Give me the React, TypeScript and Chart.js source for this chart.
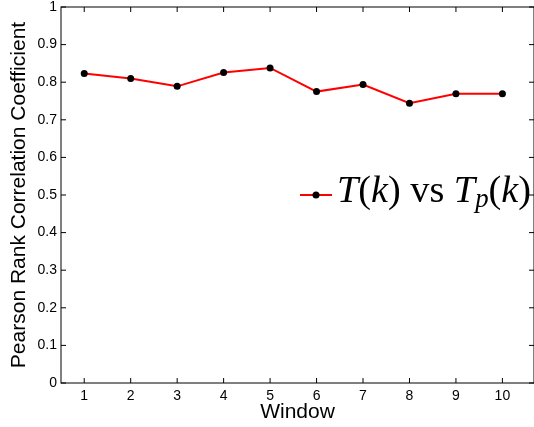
import React, { useEffect, useRef } from "react";
import { Chart, registerables } from "chart.js";

Chart.register(...registerables);

const windows = [1, 2, 3, 4, 5, 6, 7, 8, 9, 10];
const correlation = [0.823, 0.810, 0.789, 0.826, 0.838, 0.775, 0.794, 0.744, 0.769, 0.769];
const xTicks = [1, 2, 3, 4, 5, 6, 7, 8, 9, 10];
const xTickLabels = ["1", "2", "3", "4", "5", "6", "7", "8", "9", "10"];
const yTicks = [0, 0.1, 0.2, 0.3, 0.4, 0.5, 0.6, 0.7, 0.8, 0.9, 1];
const yTickLabels = ["0", "0.1", "0.2", "0.3", "0.4", "0.5", "0.6", "0.7", "0.8", "0.9", "1"];
const xTitle = "Window";
const yTitle = "Pearson Rank Correlation Coefficient";

const SANS = '"Liberation Sans", Arial, Helvetica, sans-serif';
const SERIF = '"Liberation Serif", "Times New Roman", serif';

const boxPlugin = {
  id: "matlabBox",
  afterDraw(chart: any) {
    const { ctx, chartArea } = chart;
    const { left, right, top, bottom } = chartArea;
    const xs = chart.scales.x;
    const ys = chart.scales.y;
    const tl = 5;
    ctx.save();
    ctx.strokeStyle = "#000";
    ctx.lineWidth = 1;
    ctx.strokeRect(left, top, right - left, bottom - top);
    ctx.beginPath();
    xTicks.forEach((v) => {
      const px = xs.getPixelForValue(v);
      ctx.moveTo(px, bottom);
      ctx.lineTo(px, bottom - tl);
      ctx.moveTo(px, top);
      ctx.lineTo(px, top + tl);
    });
    yTicks.forEach((v) => {
      const py = ys.getPixelForValue(v);
      ctx.moveTo(left, py);
      ctx.lineTo(left + tl, py);
      ctx.moveTo(right, py);
      ctx.lineTo(right - tl, py);
    });
    ctx.stroke();
    ctx.restore();
  },
};

type Seg = { t: string; it?: boolean; sub?: boolean };
const legendSegs: Seg[] = [
  { t: "T", it: true },
  { t: "(" },
  { t: "k", it: true },
  { t: ")" },
  { t: " vs " },
  { t: "T", it: true },
  { t: "p", it: true, sub: true },
  { t: "(" },
  { t: "k", it: true },
  { t: ")" },
];

const legendPlugin = {
  id: "mathLegend",
  afterDraw(chart: any) {
    const { ctx, chartArea } = chart;
    const cy = (chartArea.top + chartArea.bottom) / 2;
    const x0 = chartArea.right - 234;
    const x1 = chartArea.right - 202;
    ctx.save();
    ctx.strokeStyle = "#ff0000";
    ctx.lineWidth = 2;
    ctx.beginPath();
    ctx.moveTo(x0, cy);
    ctx.lineTo(x1, cy);
    ctx.stroke();
    ctx.fillStyle = "#000";
    ctx.beginPath();
    ctx.arc((x0 + x1) / 2, cy, 3.5, 0, Math.PI * 2);
    ctx.fill();

    const fontFor = (seg: Seg, s: number) =>
      `${seg.it ? "italic " : ""}${seg.sub ? s * 0.7 : s}px ${SERIF}`;
    const measure = (s: number) =>
      legendSegs.reduce((w, seg) => {
        ctx.font = fontFor(seg, s);
        return w + ctx.measureText(seg.t).width;
      }, 0);
    const base = 30;
    const targetW = 194;
    const s = (base * targetW) / measure(base);
    let x = chartArea.right - 197;
    const baseline = cy + 6.5;
    ctx.textBaseline = "alphabetic";
    ctx.textAlign = "left";
    legendSegs.forEach((seg) => {
      ctx.font = fontFor(seg, s);
      ctx.fillText(seg.t, x, seg.sub ? baseline + s * 0.15 : baseline);
      x += ctx.measureText(seg.t).width;
    });
    ctx.restore();
  },
};

export default function App() {
  const ref = useRef<HTMLCanvasElement | null>(null);
  useEffect(() => {
    if (!ref.current) return;
    const chart = new Chart(ref.current, {
      type: "line",
      data: {
        datasets: [
          {
            label: "T(k) vs Tp(k)",
            data: windows.map((w, i) => ({ x: w, y: correlation[i] })),
            borderColor: "#ff0000",
            borderWidth: 2,
            pointBackgroundColor: "#000",
            pointBorderColor: "#000",
            pointRadius: 3.5,
            pointBorderWidth: 0,
            tension: 0,
            fill: false,
          },
        ],
      },
      options: {
        animation: false,
        responsive: false,
        events: [],
        layout: { autoPadding: false, padding: { top: 7, right: 0, left: 0, bottom: 0 } },
        plugins: { legend: { display: false }, tooltip: { enabled: false } },
        scales: {
          x: {
            type: "linear",
            min: 0.5,
            max: 10.68,
            grid: { display: false, drawTicks: false },
            border: { display: false },
            afterBuildTicks: (scale: any) => {
              scale.ticks = xTicks.map((v) => ({ value: v }));
            },
            afterFit: (scale: any) => {
              scale.height = 44;
              scale.paddingLeft = 0;
              scale.paddingRight = 0;
            },
            ticks: {
              autoSkip: false,
              maxRotation: 0,
              padding: 5,
              color: "#000",
              font: { family: SANS, size: 14 },
              callback: (_v: any, i: number) => xTickLabels[i],
            },
            title: {
              display: true,
              text: xTitle,
              color: "#000",
              font: { family: SANS, size: 21 },
              padding: { top: 0, bottom: 2 },
            },
          },
          y: {
            type: "linear",
            min: 0,
            max: 1,
            grid: { display: false, drawTicks: false },
            border: { display: false },
            afterBuildTicks: (scale: any) => {
              scale.ticks = yTicks.map((v) => ({ value: v }));
            },
            afterFit: (scale: any) => {
              scale.width = 61;
              scale.paddingTop = 0;
              scale.paddingBottom = 0;
            },
            ticks: {
              autoSkip: false,
              padding: 4,
              color: "#000",
              font: { family: SANS, size: 14 },
              callback: (_v: any, i: number) => yTickLabels[i],
            },
            title: {
              display: true,
              text: yTitle,
              color: "#000",
              font: { family: SANS, size: 21 },
              padding: { top: 7, bottom: 0 },
            },
          },
        },
      },
      plugins: [boxPlugin, legendPlugin],
    });
    return () => chart.destroy();
  }, []);
  return (
    <div style={{ position: "fixed", left: 0, top: 0, width: 534, height: 427, overflow: "hidden", background: "#fff" }}>
      <canvas ref={ref} width={534} height={427} style={{ display: "block" }} />
    </div>
  );
}
